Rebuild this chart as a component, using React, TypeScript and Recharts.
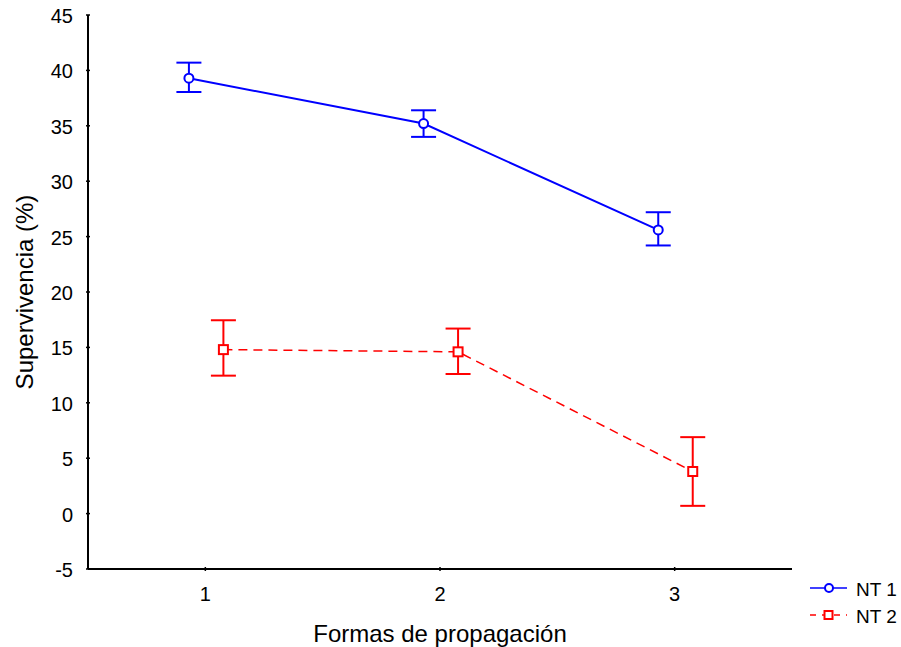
import { ComposedChart, Line, XAxis, YAxis, ErrorBar, Legend, Label } from "recharts";

// survival means with lower / upper interval bounds, per propagation method
const methods = [1, 2, 3];
const nt1Mean = [39.3, 35.2, 25.6];
const nt1Low = [38.05, 34.0, 24.2];
const nt1High = [40.7, 36.4, 27.2];
const nt2Mean = [14.8, 14.6, 3.8];
const nt2Low = [12.45, 12.6, 0.7];
const nt2High = [17.45, 16.7, 6.9];
const yTicks = [-5, 0, 5, 10, 15, 20, 25, 30, 35, 40, 45];

const FONT = "'Liberation Sans', Arial, sans-serif";
const BLUE = "#0000ff";
const RED = "#ff0000";

// the two series are nudged sideways so their error bars don't overlap
const build = (mean: number[], low: number[], high: number[], shift: number) =>
  methods.map((m, i) => ({
    x: m + shift,
    y: mean[i],
    err: [mean[i] - low[i], high[i] - mean[i]],
  }));

const nt1 = build(nt1Mean, nt1Low, nt1High, -0.07);
const nt2 = build(nt2Mean, nt2Low, nt2High, 0.077);

function YTick(props: any) {
  const { x, y, payload } = props;
  return (
    <g>
      <line x1={x} y1={y} x2={x + 4} y2={y} stroke="#000" strokeWidth={1.5} />
      <text x={x - 13} y={y + 1} textAnchor="end" dominantBaseline="central" fontSize={20} fontFamily={FONT} fill="#000">
        {payload.value}
      </text>
    </g>
  );
}

function XTick(props: any) {
  const { x, y, payload } = props;
  return (
    <g>
      <line x1={x} y1={y} x2={x} y2={y - 4} stroke="#000" strokeWidth={1.5} />
      <text x={x} y={y + 23} textAnchor="middle" dominantBaseline="central" fontSize={20} fontFamily={FONT} fill="#000">
        {payload.value}
      </text>
    </g>
  );
}

function SquareDot(props: any) {
  const { cx, cy } = props;
  if (cx == null || cy == null) return null;
  return <rect x={cx - 4.5} y={cy - 4.5} width={9} height={9} fill="#fff" stroke={RED} strokeWidth={2} />;
}

function LegendBox() {
  const rows = [
    { name: "NT 1", color: BLUE, dash: undefined, square: false },
    { name: "NT 2", color: RED, dash: "6 6", square: true },
  ];
  return (
    <svg width={96} height={52}>
      {rows.map((r, i) => {
        const cy = 11 + i * 27;
        return (
          <g key={r.name}>
            <line x1={5} y1={cy} x2={42} y2={cy} stroke={r.color} strokeWidth={1.5} strokeDasharray={r.dash} />
            {r.square ? (
              <rect x={19.5} y={cy - 4} width={8} height={8} fill="#fff" stroke={r.color} strokeWidth={2} />
            ) : (
              <circle cx={24} cy={cy} r={4} fill="#fff" stroke={r.color} strokeWidth={2} />
            )}
            <text x={51} y={cy + 1} dominantBaseline="central" fontSize={19} fontFamily={FONT} fill="#000">
              {r.name}
            </text>
          </g>
        );
      })}
    </svg>
  );
}

export default function App() {
  return (
    <div style={{ position: "absolute", left: 0, top: 0, background: "#fff" }}>
      <ComposedChart width={901} height={647} margin={{ top: 15, right: 109, bottom: 0, left: 0 }}>
        <XAxis
          type="number"
          dataKey="x"
          domain={[0.5, 3.5]}
          ticks={methods}
          allowDataOverflow
          height={78}
          tickSize={0}
          tickLine={false}
          tick={<XTick />}
          axisLine={{ stroke: "#000", strokeWidth: 2 }}
        >
          <Label value="Formas de propagación" position="center" dy={25} fontSize={24} fontFamily={FONT} fill="#000" />
        </XAxis>
        <YAxis
          type="number"
          domain={[-5, 45]}
          ticks={yTicks}
          width={88}
          tickSize={0}
          tickLine={false}
          tick={<YTick />}
          axisLine={{ stroke: "#000", strokeWidth: 2 }}
        >
          <Label value="Supervivencia (%)" angle={-90} position="center" dx={-20} fontSize={24} fontFamily={FONT} fill="#000" />
        </YAxis>
        <Legend
          layout="horizontal"
          verticalAlign="middle"
          align="center"
          wrapperStyle={{ left: 805, top: 577, width: 96 }}
          content={<LegendBox />}
        />
        <Line
          data={nt1}
          dataKey="y"
          name="NT 1"
          stroke={BLUE}
          strokeWidth={2}
          dot={{ r: 4.5, fill: "#fff", stroke: BLUE, strokeWidth: 2 }}
          activeDot={false}
          isAnimationActive={false}
        >
          <ErrorBar dataKey="err" width={12.5} stroke={BLUE} strokeWidth={2} direction="y" />
        </Line>
        <Line
          data={nt2}
          dataKey="y"
          name="NT 2"
          stroke={RED}
          strokeWidth={1.5}
          strokeDasharray="9 6"
          dot={<SquareDot />}
          activeDot={false}
          isAnimationActive={false}
        >
          <ErrorBar dataKey="err" width={12.5} stroke={RED} strokeWidth={2} direction="y" />
        </Line>
      </ComposedChart>
    </div>
  );
}
